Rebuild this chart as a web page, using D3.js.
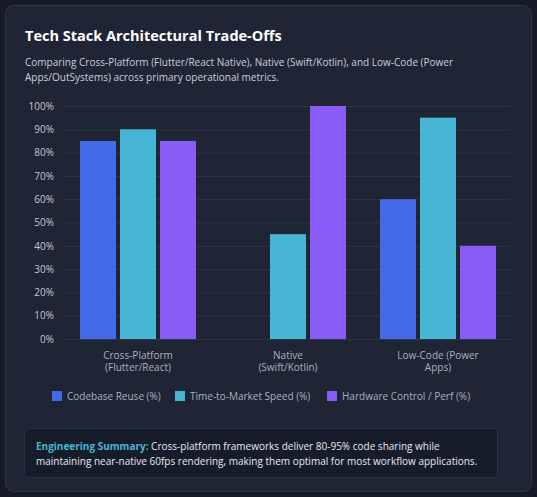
<!DOCTYPE html>
<html><head><meta charset="utf-8">
<script src="https://cdn.jsdelivr.net/npm/d3@7"></script>
<style>
html,body{margin:0;padding:0;background:#151a25;}
svg{display:block;font-family:"Open Sans",sans-serif;}
</style></head><body>
<svg id="c" width="537" height="497"></svg>
<script>
const categories = [["Cross-Platform","(Flutter/React)"],["Native","(Swift/Kotlin)"],["Low-Code (Power","Apps)"]];
const seriesNames = ["Codebase Reuse (%)","Time-to-Market Speed (%)","Hardware Control / Perf (%)"];
const codebaseReuse = [85, 0, 60];
const timeToMarket = [90, 45, 95];
const hardwareControl = [85, 100, 40];
const tickValues = [0,10,20,30,40,50,60,70,80,90,100];
const colors = ["#4169e8","#47b6d4","#8b5cf6"];
const series = [codebaseReuse, timeToMarket, hardwareControl];

const svg = d3.select("#c");
svg.append("rect").attr("x",5.5).attr("y",5.5).attr("width",526).attr("height",486).attr("rx",8)
  .attr("fill","#1f2535").attr("stroke","#2e3547");
svg.append("text").attr("x",25).attr("y",41).attr("fill","#fff").attr("font-size",14.5).attr("font-weight",700)
  .text("Tech Stack Architectural Trade-Offs");
svg.append("text").attr("x",25).attr("y",66).attr("fill","#c9cfdb").attr("font-size",10)
  .text("Comparing Cross-Platform (Flutter/React Native), Native (Swift/Kotlin), and Low-Code (Power");
svg.append("text").attr("x",25).attr("y",81).attr("fill","#c9cfdb").attr("font-size",10)
  .text("Apps/OutSystems) across primary operational metrics.");

const y = d3.scaleLinear().domain([0,100]).range([339,106]);
const x0 = d3.scaleBand().domain(d3.range(categories.length)).range([80,496]).paddingInner(0.2267).paddingOuter(0);
const x1 = d3.scaleBand().domain(d3.range(series.length)).range([0,x0.bandwidth()]).paddingInner(0.1);

svg.append("g").selectAll("line").data(tickValues).join("line")
  .attr("x1",62).attr("x2",510).attr("y1",d=>y(d)+0.5).attr("y2",d=>y(d)+0.5)
  .attr("stroke","#2d3547").attr("stroke-width",1);
const ya = svg.append("g").attr("transform","translate(62,0)")
  .call(d3.axisLeft(y).tickValues(tickValues).tickFormat(d=>d+"%").tickSize(0).tickPadding(8));
ya.select(".domain").remove();
ya.selectAll("text").attr("fill","#c2c8d4").attr("font-size",10).attr("font-family","Open Sans");

categories.forEach((c,i)=>{
  series.forEach((s,j)=>{
    if(s[i]<=0) return;
    svg.append("rect").attr("x",x0(i)+x1(j)).attr("y",y(s[i])).attr("width",x1.bandwidth())
      .attr("height",y(0)-y(s[i])).attr("fill",colors[j]);
  });
  const t = svg.append("text").attr("text-anchor","middle").attr("fill","#a9b0bd").attr("font-size",10);
  c.forEach((line,k)=>t.append("tspan").attr("x",x0(i)+x0.bandwidth()/2).attr("y",359+k*12).text(line));
});

const legendX = [52,175,327];
seriesNames.forEach((n,j)=>{
  svg.append("rect").attr("x",legendX[j]).attr("y",391).attr("width",10).attr("height",10).attr("fill",colors[j]);
  svg.append("text").attr("x",legendX[j]+15).attr("y",400).attr("fill","#a9b0bd").attr("font-size",10).text(n);
});

svg.append("rect").attr("x",24.5).attr("y",428.5).attr("width",473).attr("height",49).attr("rx",4)
  .attr("fill","#171c2a").attr("stroke","#2a3244");
const s1 = svg.append("text").attr("x",36).attr("y",450).attr("font-size",10).attr("fill","#e6e9ef");
s1.append("tspan").attr("fill","#47b6d4").attr("font-weight",700).text("Engineering Summary:");
s1.append("tspan").text(" Cross-platform frameworks deliver 80-95% code sharing while");
svg.append("text").attr("x",36).attr("y",465).attr("font-size",10).attr("fill","#e6e9ef")
  .text("maintaining near-native 60fps rendering, making them optimal for most workflow applications.");
</script></body></html>
